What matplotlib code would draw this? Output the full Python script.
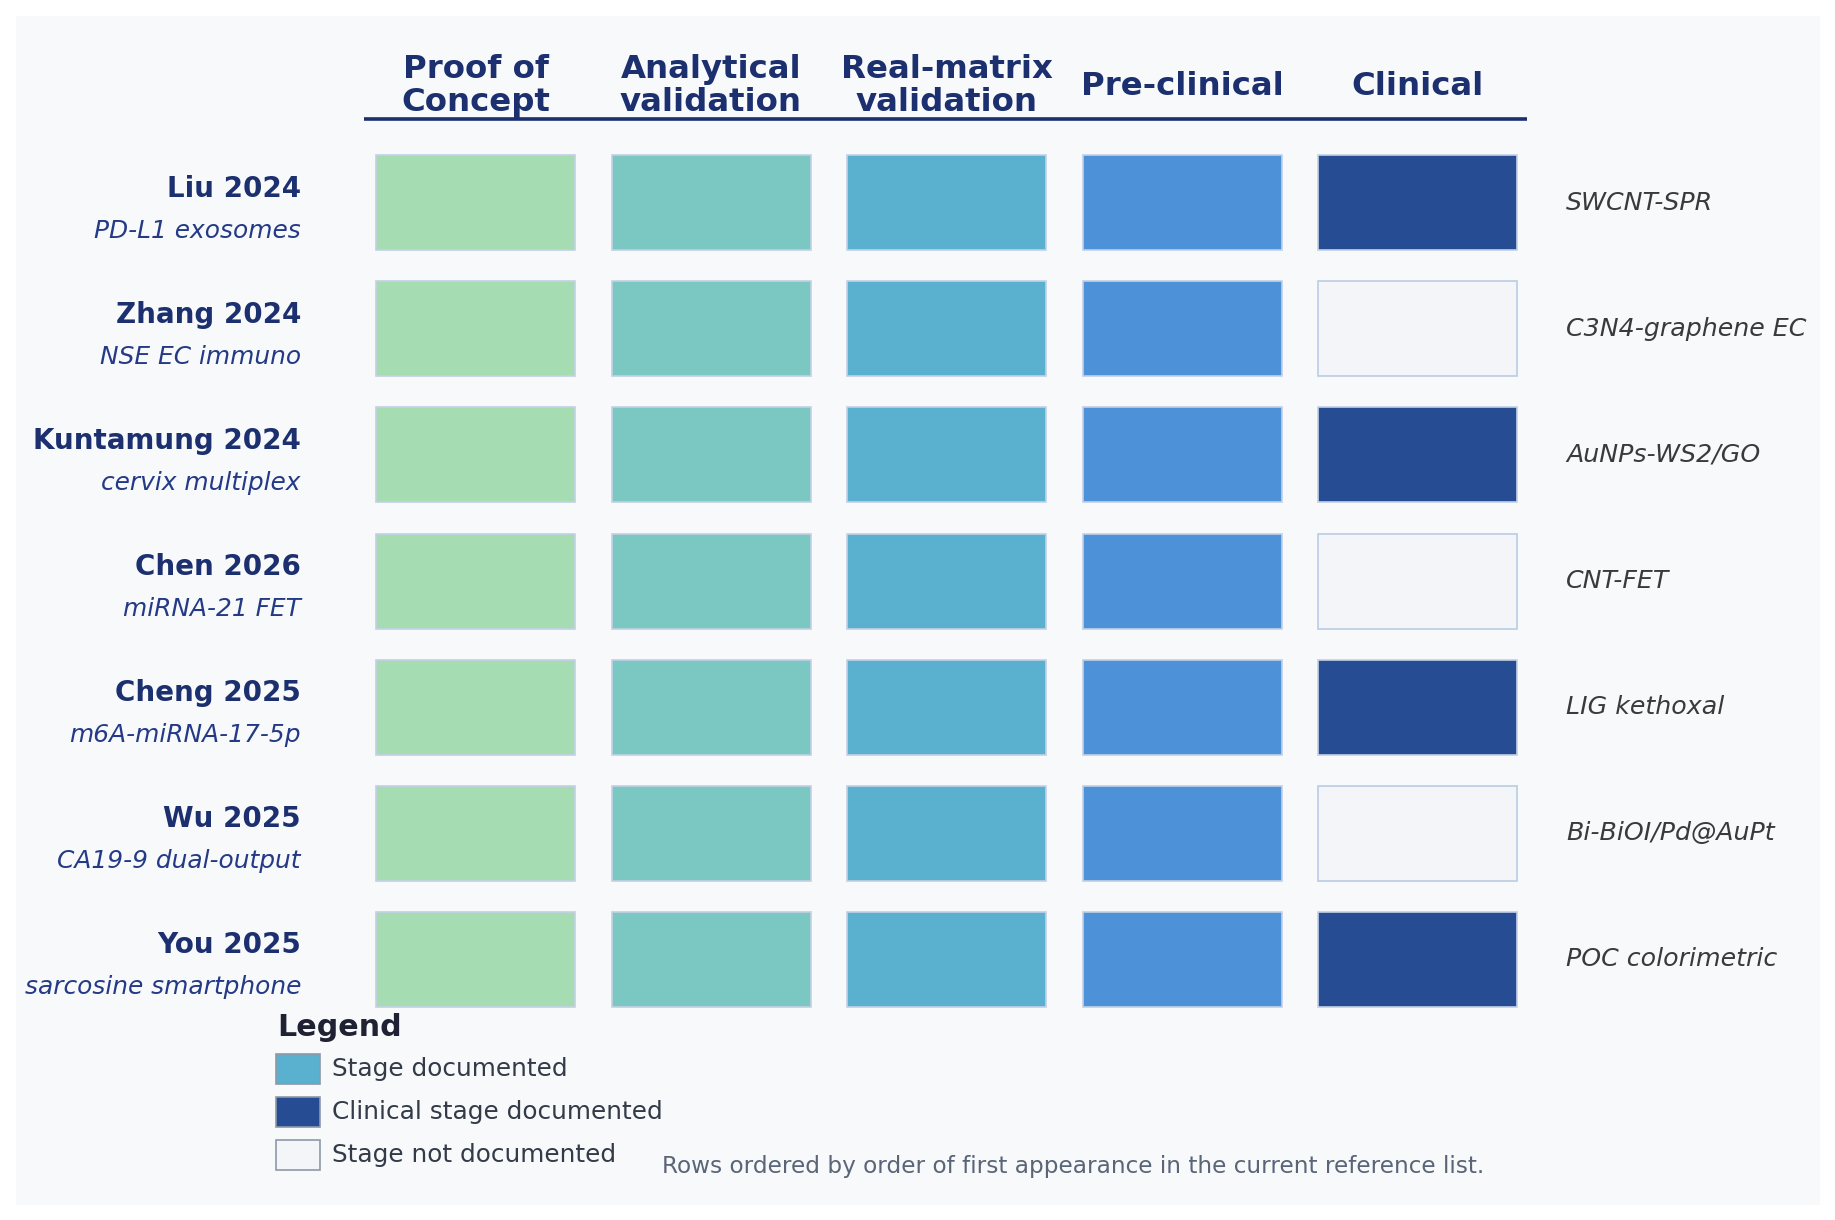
import matplotlib
matplotlib.use('Agg')
import matplotlib.pyplot as plt
from matplotlib.patches import Rectangle

# Veriler
studies = ["Liu 2024", "Zhang 2024", "Kuntamung 2024", "Chen 2026",
           "Cheng 2025", "Wu 2025", "You 2025"]
targets = ["PD-L1 exosomes", "NSE EC immuno", "cervix multiplex",
           "miRNA-21 FET", "m6A-miRNA-17-5p", "CA19-9 dual-output",
           "sarcosine smartphone"]
platforms = ["SWCNT-SPR", "C3N4-graphene EC", "AuNPs-WS2/GO", "CNT-FET",
             "LIG kethoxal", "Bi-BiOI/Pd@AuPt", "POC colorimetric"]
stages = ["Proof of\nConcept", "Analytical\nvalidation", "Real-matrix\nvalidation",
          "Pre-clinical", "Clinical"]
# 1 = belgelenmiş, 0 = belgelenmemiş
documented = [
    [1, 1, 1, 1, 1],
    [1, 1, 1, 1, 0],
    [1, 1, 1, 1, 1],
    [1, 1, 1, 1, 0],
    [1, 1, 1, 1, 1],
    [1, 1, 1, 1, 0],
    [1, 1, 1, 1, 1],
]

stage_colors = ["#a6dcb1", "#7bc8c3", "#59b0cf", "#4d92d8", "#264d94"]
empty_color = "#f3f5f8"
navy = "#1c2f6e"

W, H = 1835, 1220
fig = plt.figure(figsize=(W / 100, H / 100), dpi=100)
fig.patch.set_facecolor("white")

# açık gri panel
fig.patches.append(Rectangle((16 / W, 1 - 1205 / H), (1820 - 16) / W, (1205 - 16) / H,
                             transform=fig.transFigure, facecolor="#f7f9fb",
                             edgecolor="none", zorder=-5))

ax = fig.add_axes([0, 0, 1, 1])
ax.set_zorder(2)
ax.patch.set_visible(False)
# sütun aralığı 235.5 px, satır aralığı 126 px
x0, dx = 475.5, 235.5
y0, dy = 203, 126
ax.set_xlim(-x0 / dx, (W - x0) / dx)
ax.set_ylim((H - y0) / dy, -y0 / dy)
ax.axis("off")

cw, ch = 199 / dx, 95 / dy
for r, row in enumerate(documented):
    for c, val in enumerate(row):
        fc = stage_colors[c] if val else empty_color
        ec = "#c3d1e6" if val else "#b9cde4"
        ax.add_patch(Rectangle((c - cw / 2, r - ch / 2), cw, ch, facecolor=fc,
                               edgecolor=ec, linewidth=1.2, zorder=2))
    ax.text(-0.741, r - 0.115, studies[r], ha="right", va="center",
            fontsize=20, fontweight="bold", color=navy)
    ax.text(-0.741, r + 0.222, targets[r], ha="right", va="center",
            fontsize=17.9, fontstyle="italic", color="#243a86")
    ax.text(4.631, r, platforms[r], ha="left", va="center",
            fontsize=18.2, fontstyle="italic", color="#3a3a3a")

for c, name in enumerate(stages):
    ax.text(c, -0.925, name, ha="center", va="center", fontsize=23.3,
            fontweight="bold", color=navy, linespacing=1.08)
ax.plot([-0.473, 4.465], [-0.663, -0.663], color=navy, linewidth=2.6,
        solid_capstyle="butt")

# Lejant
fig.text(277 / W, 1 - 1027 / H, "Legend", ha="left", va="center",
         fontsize=21.7, fontweight="bold", color="#1e2233")
legend_items = [("Stage documented", stage_colors[2]),
                ("Clinical stage documented", stage_colors[4]),
                ("Stage not documented", empty_color)]
for i, (label, col) in enumerate(legend_items):
    yc = 1069 + 43 * i
    fig.patches.append(Rectangle((276 / W, 1 - (yc + 15) / H), 44 / W, 30 / H,
                                 transform=fig.transFigure, facecolor=col,
                                 edgecolor="#8e98a8", linewidth=1.2, zorder=3))
    fig.text(332 / W, 1 - yc / H, label, ha="left", va="center",
             fontsize=17.8, color="#333a48")

fig.text(662 / W, 1 - 1167 / H,
         "Rows ordered by order of first appearance in the current reference list.",
         ha="left", va="center", fontsize=16.7, color="#5a6578")

fig.savefig("out.png", dpi=100, facecolor=fig.get_facecolor())
plt.close(fig)
